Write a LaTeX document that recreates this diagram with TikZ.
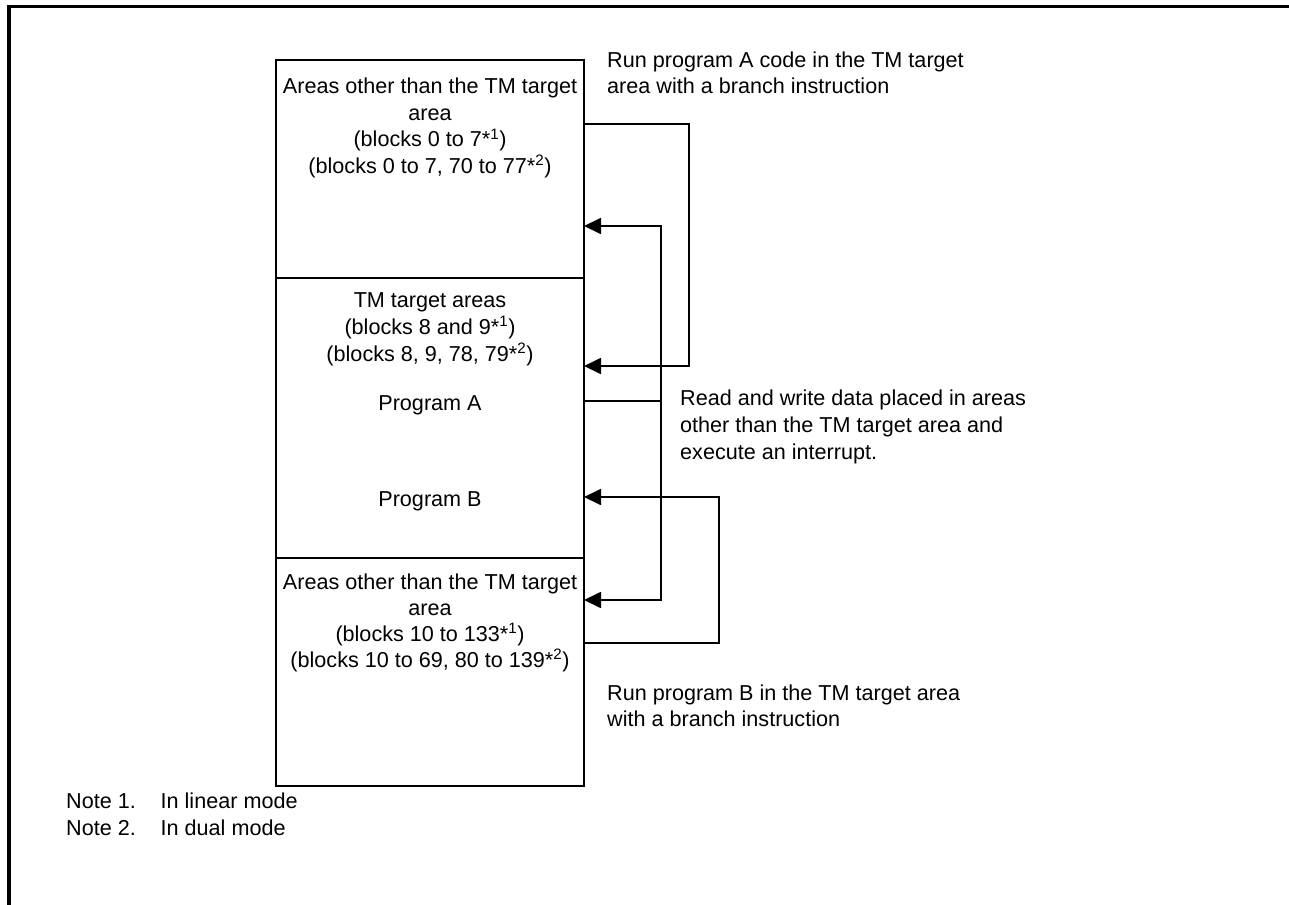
\documentclass[tikz,border=0pt]{standalone}
\usepackage{fontspec}
\setmainfont{Liberation Sans}
\usetikzlibrary{arrows.meta}
\begin{document}
\begin{tikzpicture}[x=1pt,y=-1pt,
  box/.style={draw=black, line width=2pt, rectangle, inner sep=0pt, outer sep=0pt, minimum width=308pt},
  txt/.style={font=\fontsize{21.6}{26.5}\selectfont, inner sep=0pt, anchor=base},
  txtl/.style={txt, anchor=base west},
  conn/.style={draw=black, line width=1.8pt},
  arr/.style={conn, -{Triangle[length=17pt,width=16pt]}},
  frame/.style={draw=black, line width=3.5pt}
]
\useasboundingbox (0,0) rectangle (1289,904);
% outer frame (left and top edges only)
\coordinate (fbl) at (9,906);
\coordinate (ftl) at (9,6.5);
\coordinate (ftr) at (1291,6.5);
\draw[frame] (fbl) -- (ftl) -- (ftr);

% memory blocks
\node[box, minimum height=218pt] (top) at (430,169) {};
\node[box, minimum height=280pt] (mid) at (430,418) {};
\node[box, minimum height=228pt] (bot) at (430,672) {};

% top block text
\node[txt] (t1) at (430,94) {Areas other than the TM target};
\node[txt] (t2) at (430,120.5) {area};
\node[txt] (t3) at (430,147) {(blocks 0 to 7*\textsuperscript{1})};
\node[txt] (t4) at (430,173.5) {(blocks 0 to 7, 70 to 77*\textsuperscript{2})};

% middle block text
\node[txt] (m1) at (430,307) {TM target areas};
\node[txt] (m2) at (430,334) {(blocks 8 and 9*\textsuperscript{1})};
\node[txt] (m3) at (430,361) {(blocks 8, 9, 78, 79*\textsuperscript{2})};
\node[txt] (pa) at (430,410) {Program A};
\node[txt] (pb) at (430,506) {Program B};

% bottom block text
\node[txt] (b1) at (430,589) {Areas other than the TM target};
\node[txt] (b2) at (430,615) {area};
\node[txt] (b3) at (430,641) {(blocks 10 to 133*\textsuperscript{1})};
\node[txt] (b4) at (430,667) {(blocks 10 to 69, 80 to 139*\textsuperscript{2})};

% right labels
\node[txtl] (r1) at (607,68) {Run program A code in the TM target};
\node[txtl] (r2) at (607,94) {area with a branch instruction};
\node[txtl] (r3) at (680,405) {Read and write data placed in areas};
\node[txtl] (r4) at (680,432) {other than the TM target area and};
\node[txtl] (r5) at (680,459) {execute an interrupt.};
\node[txtl] (r6) at (607,700) {Run program B in the TM target area};
\node[txtl] (r7) at (607,726) {with a branch instruction};

% notes
\node[txtl] (n1) at (66,808) {\makebox[94.5pt][l]{Note 1.}In linear mode};
\node[txtl] (n2) at (66,835) {\makebox[94.5pt][l]{Note 2.}In dual mode};

% connector points on the right edge of the blocks
\coordinate (topOut) at (584,124);
\coordinate (topIn)  at (584,226);
\coordinate (midIn)  at (584,366);
\coordinate (progA)  at (584,401);
\coordinate (progB)  at (584,497);
\coordinate (botIn)  at (584,600);
\coordinate (botOut) at (584,643);
\coordinate (c1) at (689,124);
\coordinate (jA) at (661,401);
\coordinate (k1) at (719,643);

% connectors
\draw[arr] (topOut) -- (c1) |- (midIn);
\draw[conn] (progA) -- (jA);
\draw[arr] (jA) |- (topIn);
\draw[arr] (jA) |- (botIn);
\draw[arr] (botOut) -- (k1) |- (progB);
\end{tikzpicture}
\end{document}
